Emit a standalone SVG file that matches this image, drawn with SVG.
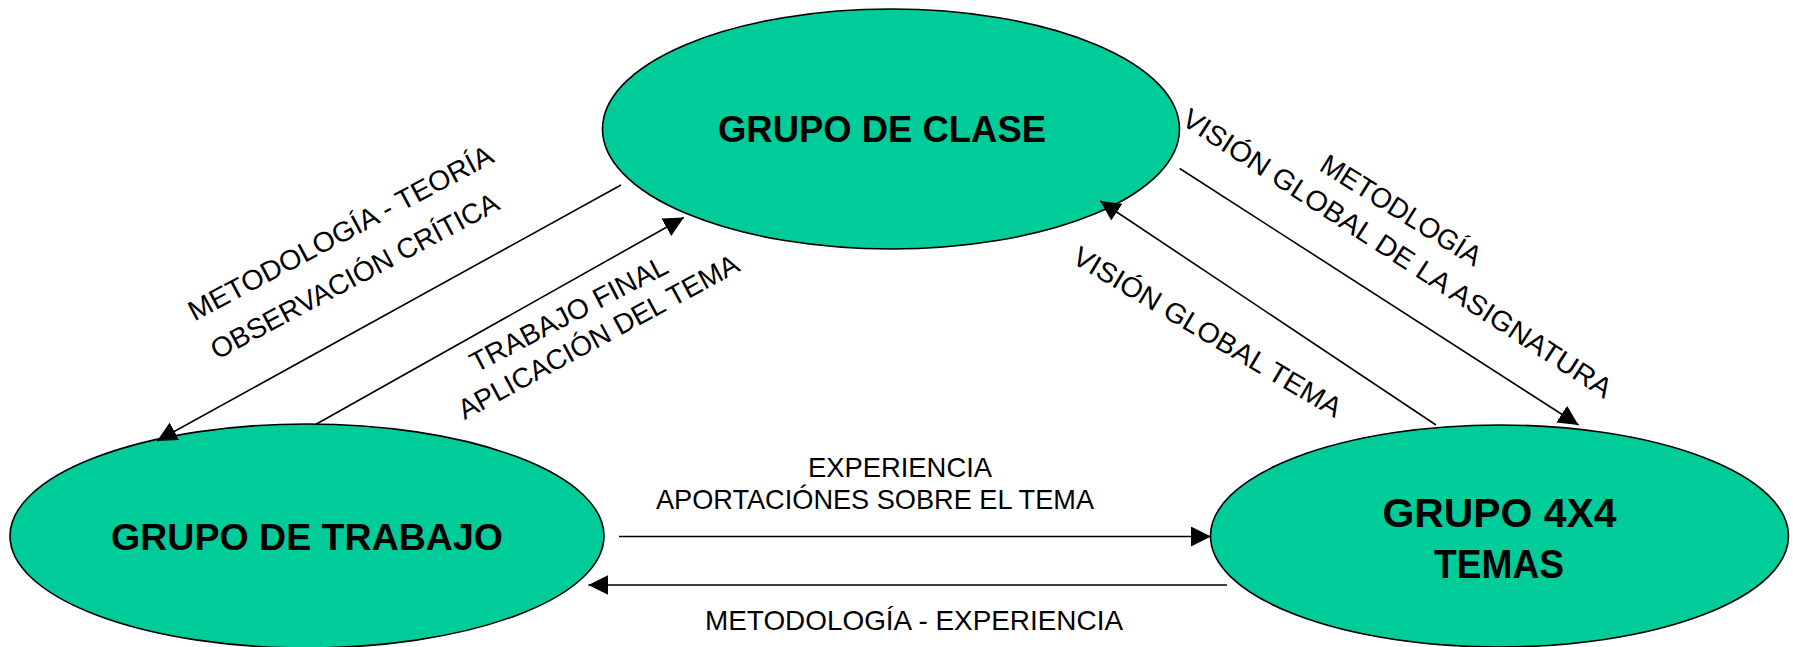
<svg xmlns="http://www.w3.org/2000/svg" width="1793" height="647" viewBox="0 0 1793 647">
  <style>
    .node { fill: #00CC99; stroke: #000; stroke-width: 1.6; }
    .title { font-family: "Liberation Sans", Arial, sans-serif; font-weight: bold; fill: #000; }
    .lbl { font-family: "Liberation Sans", Arial, sans-serif; font-size: 28px; fill: #000; }
    .edge { stroke: #000; stroke-width: 1.6; fill: none; marker-end: url(#arrow); }
  </style>
  <defs>
    <marker id="arrow" viewBox="0 0 20 20" refX="20" refY="10" markerWidth="20" markerHeight="20" markerUnits="userSpaceOnUse" orient="auto">
      <path d="M0,0 L20,10 L0,20 z" fill="#000"/>
    </marker>
  </defs>
  <rect width="1793" height="647" fill="#fff"/>

  <g id="node-clase">
    <ellipse class="node" cx="891" cy="129" rx="288.5" ry="120"/>
    <text class="title" x="718" y="142" font-size="36" textLength="328" lengthAdjust="spacingAndGlyphs">GRUPO DE CLASE</text>
  </g>
  <g id="node-trabajo">
    <ellipse class="node" cx="307" cy="536" rx="297" ry="112"/>
    <text class="title" x="111" y="549.5" font-size="36" textLength="392" lengthAdjust="spacingAndGlyphs">GRUPO DE TRABAJO</text>
  </g>
  <g id="node-4x4">
    <ellipse class="node" cx="1499.5" cy="536" rx="289" ry="111"/>
    <text class="title" x="1382.5" y="527" font-size="40" textLength="234" lengthAdjust="spacingAndGlyphs">GRUPO 4X4</text>
    <text class="title" x="1434" y="577.5" font-size="40" textLength="130" lengthAdjust="spacingAndGlyphs">TEMAS</text>
  </g>

  <g id="connectors">
    <line class="edge" x1="621" y1="185" x2="157" y2="441"/>
    <line class="edge" x1="315.6" y1="424.5" x2="683.8" y2="217.5"/>
    <line class="edge" x1="1179.7" y1="168.5" x2="1578.5" y2="425"/>
    <line class="edge" x1="1436" y1="425" x2="1100.2" y2="201"/>
    <line class="edge" x1="619" y1="536.5" x2="1211" y2="536.5"/>
    <line class="edge" x1="1227" y1="585" x2="588.4" y2="585"/>
  </g>

  <g id="labels">
    <text class="lbl" transform="translate(194.5,321.5) rotate(-28)" textLength="341" lengthAdjust="spacingAndGlyphs">METODOLOGÍA - TEORÍA</text>
    <text class="lbl" transform="translate(217,360) rotate(-28)" textLength="322" lengthAdjust="spacingAndGlyphs">OBSERVACIÓN CRÍTICA</text>
    <text class="lbl" transform="translate(476,373) rotate(-27.5)" textLength="219" lengthAdjust="spacingAndGlyphs">TRABAJO FINAL</text>
    <text class="lbl" transform="translate(464.4,420) rotate(-28.4)" textLength="315" lengthAdjust="spacingAndGlyphs">APLICACIÓN DEL TEMA</text>
    <text class="lbl" transform="translate(1180,123.5) rotate(33)" textLength="506" lengthAdjust="spacingAndGlyphs">VISIÓN GLOBAL DE LA ASIGNATURA</text>
    <text class="lbl" transform="translate(1318,169.5) rotate(32)" textLength="184" lengthAdjust="spacingAndGlyphs">METODLOGÍA</text>
    <text class="lbl" transform="translate(1070.5,262) rotate(30.6)" textLength="307" lengthAdjust="spacingAndGlyphs">VISIÓN GLOBAL TEMA</text>
    <text class="lbl" x="808" y="477" textLength="184" lengthAdjust="spacingAndGlyphs">EXPERIENCIA</text>
    <text class="lbl" x="656" y="509" textLength="438" lengthAdjust="spacingAndGlyphs">APORTACIÓNES SOBRE EL TEMA</text>
    <text class="lbl" x="705" y="630" textLength="418" lengthAdjust="spacingAndGlyphs">METODOLOGÍA - EXPERIENCIA</text>
  </g>
</svg>
